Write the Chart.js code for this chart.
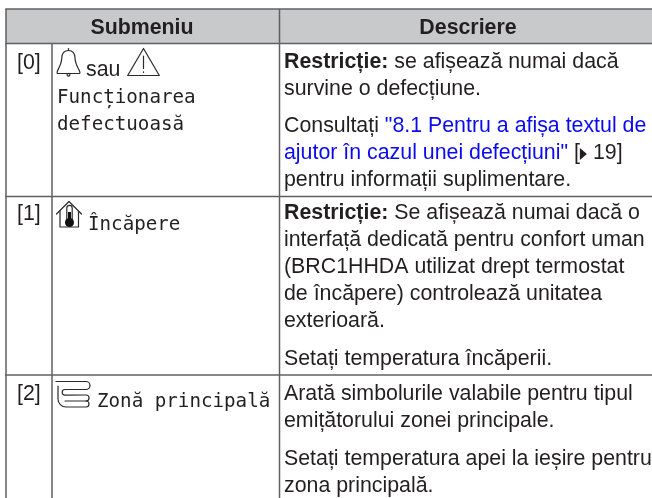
<!DOCTYPE html>
<html lang="ro"><head><meta charset="utf-8">
<style>html,body{margin:0;padding:0;background:#fff}canvas{display:block;filter:blur(.3px)}</style>
<script src="https://cdn.jsdelivr.net/npm/chart.js@4"></script>
</head><body><canvas id="c" width="652" height="498"></canvas>
<script>
// Table content
const headers = ["Submeniu", "Descriere"];
const indexes = ["[0]", "[1]", "[2]"];
const submenuSau = "sau";
const submenu0 = ["Funcționarea", "defectuoasă"];
const submenu1 = ["Încăpere"];
const submenu2 = ["Zonă principală"];
const restrictLabel = "Restricție:";
const desc0 = [" se afișează numai dacă", "survine o defecțiune."];
const link0 = ["\"8.1 Pentru a afișa textul de", "ajutor în cazul unei defecțiuni\""];
const desc0b = ["Consultați ", " [", "19]", "pentru informații suplimentare."];
const desc1 = [" Se afișează numai dacă o", "interfață dedicată pentru confort uman", "(BRC1HHDA utilizat drept termostat", "de încăpere) controlează unitatea", "exterioară.", "Setați temperatura încăperii."];
const desc2 = ["Arată simbolurile valabile pentru tipul", "emițătorului zonei principale.", "Setați temperatura apei la ieșire pentru", "zona principală."];

// Layout (pixels on the table's own scale)
const colEdges = [6, 52, 279.5, 652];
const rowEdges = [9, 43.5, 196.5, 375, 498];
const INK = "#231f20", RULE = "#5f6062", HEAD = "#c8c9cb", LINK = "#0a0aee";
const SANS = "21.35px 'Liberation Sans'", BOLD = "bold 21.35px 'Liberation Sans'", MONO = "19.2px 'DejaVu Sans Mono'";

const tablePlugin = {
  id: "table",
  beforeDraw(chart) {
    const g = chart.ctx, X = v => chart.scales.x.getPixelForValue(v), Y = v => chart.scales.y.getPixelForValue(v);
    const text = (s, x, y, font, color, align) => {
      g.font = font; g.fillStyle = color || INK; g.textAlign = align || "left"; g.textBaseline = "alphabetic";
      g.fillText(s, X(x), Y(y)); return g.measureText(s).width;
    };
    g.save();
    g.fillStyle = "#fff"; g.fillRect(0, 0, chart.width, chart.height);
    g.fillStyle = HEAD; g.fillRect(X(colEdges[0]), Y(rowEdges[0]), X(colEdges[3]) - X(colEdges[0]), Y(rowEdges[1]) - Y(rowEdges[0]));
    // rules
    g.strokeStyle = RULE; g.lineWidth = 1.5;
    rowEdges.slice(0, 4).forEach(r => { g.beginPath(); g.moveTo(X(colEdges[0]) - .75, Y(r)); g.lineTo(X(652), Y(r)); g.stroke(); });
    g.beginPath();
    g.moveTo(X(colEdges[0]), Y(rowEdges[0])); g.lineTo(X(colEdges[0]), Y(498));
    g.moveTo(X(colEdges[1]), Y(rowEdges[1])); g.lineTo(X(colEdges[1]), Y(498));
    g.moveTo(X(colEdges[2]), Y(rowEdges[0])); g.lineTo(X(colEdges[2]), Y(498));
    g.stroke();
    // header
    text(headers[0], 142, 33.5, BOLD, INK, "center");
    text(headers[1], 468, 33.5, BOLD, INK, "center");
    // index column
    [69, 220, 400].forEach((y, i) => text(indexes[i], 17, y, SANS));
    // submenu column
    text(submenuSau, 86, 76, SANS);
    text(submenu0[0], 57, 103, MONO); text(submenu0[1], 57, 130, MONO);
    text(submenu1[0], 88, 230, MONO);
    text(submenu2[0], 97, 407, MONO);
    // description column, row 0
    let w = text(restrictLabel, 284, 68, BOLD);
    text(desc0[0], 284 + w, 68, SANS);
    text(desc0[1], 284, 95, SANS);
    w = text(desc0b[0], 284, 132, SANS);
    text(link0[0], 284 + w, 132, SANS, LINK);
    w = text(link0[1], 284, 159, SANS, LINK);
    const bx = 284 + w;
    w = text(desc0b[1], bx, 159, SANS);
    g.fillStyle = INK; g.beginPath(); g.moveTo(X(bx + w), Y(148)); g.lineTo(X(bx + w + 7), Y(154)); g.lineTo(X(bx + w), Y(160)); g.closePath(); g.fill();
    text(desc0b[2], bx + w + 13, 159, SANS);
    text(desc0b[3], 284, 186, SANS);
    // row 1
    w = text(restrictLabel, 284, 219, BOLD);
    text(desc1[0], 284 + w, 219, SANS);
    [246, 273, 300, 327, 365].forEach((y, i) => text(desc1[i + 1], 284, y, SANS));
    // row 2
    [400, 427, 465, 492].forEach((y, i) => text(desc2[i], 284, y, SANS));
    // icons
    g.strokeStyle = "#2a2a2a"; g.lineWidth = 1.2; g.lineJoin = "round"; g.lineCap = "round";
    const path = (pts, close) => { g.beginPath(); pts.forEach((p, i) => i ? g.lineTo(X(p[0]), Y(p[1])) : g.moveTo(X(p[0]), Y(p[1]))); if (close) g.closePath(); g.stroke(); };
    // bell
    g.beginPath(); g.moveTo(X(57.5), Y(73.5));
    g.bezierCurveTo(X(55), Y(72), X(61.5), Y(67), X(61.8), Y(58));
    g.bezierCurveTo(X(62), Y(53), X(64), Y(50.5), X(68.5), Y(50.5));
    g.bezierCurveTo(X(73), Y(50.5), X(74.8), Y(53), X(75), Y(58));
    g.bezierCurveTo(X(75.3), Y(67), X(82), Y(72), X(79.5), Y(73.5));
    g.closePath(); g.stroke();
    path([[68.5, 48.5], [68.5, 50.5]]);
    g.beginPath(); g.arc(X(68.5), Y(74.8), 1.4, 0, Math.PI * 2); g.stroke();
    // warning
    path([[143.5, 48.5], [159.3, 75.5], [127.7, 75.5]], true);
    path([[143.5, 56], [143.5, 68.5]]); path([[143.5, 71.8], [143.5, 72.4]]);
    // house
    path([[56.5, 214], [69, 201.5], [81.5, 214]]);
    path([[60, 211], [60, 227], [78.5, 227], [78.5, 211]]);
    g.beginPath(); g.moveTo(X(66.8), Y(219)); g.lineTo(X(66.8), Y(208)); g.arc(X(69.5), Y(208), 2.7, Math.PI, 0); g.lineTo(X(72.2), Y(219)); g.stroke();
    g.fillStyle = "#111"; g.beginPath(); g.arc(X(69.5), Y(222.5), 4.5, 0, Math.PI * 2); g.fill(); g.fillRect(X(68), Y(212), 3, 9);
    // zone coil
    g.beginPath();
    g.moveTo(X(56), Y(381.5)); g.lineTo(X(86), Y(381.5)); g.arc(X(86), Y(385.5), 4, -Math.PI / 2, Math.PI / 2);
    g.lineTo(X(65), Y(389.5)); g.arc(X(65), Y(392.3), 2.8, -Math.PI / 2, -Math.PI * 1.5, true);
    g.lineTo(X(86), Y(395)); g.arc(X(86), Y(398), 3, -Math.PI / 2, Math.PI / 2);
    g.lineTo(X(65), Y(401)); g.stroke();
    g.beginPath(); g.moveTo(X(86), Y(401)); g.arc(X(86), Y(404), 3, -Math.PI / 2, Math.PI / 2); g.lineTo(X(66), Y(407));
    g.arc(X(66), Y(399), 8, Math.PI / 2, Math.PI); g.lineTo(X(58), Y(386)); g.stroke();
    g.restore();
  }
};

new Chart(document.getElementById("c"), {
  type: "scatter",
  data: { labels: indexes, datasets: [{ data: [] }] },
  options: {
    responsive: false, animation: false, devicePixelRatio: 1,
    layout: { padding: 0 },
    plugins: { legend: { display: false }, tooltip: { enabled: false } },
    scales: {
      x: { type: "linear", display: false, min: 0, max: 652 },
      y: { type: "linear", display: false, min: 0, max: 498, reverse: true }
    }
  },
  plugins: [tablePlugin]
});
</script></body></html>
